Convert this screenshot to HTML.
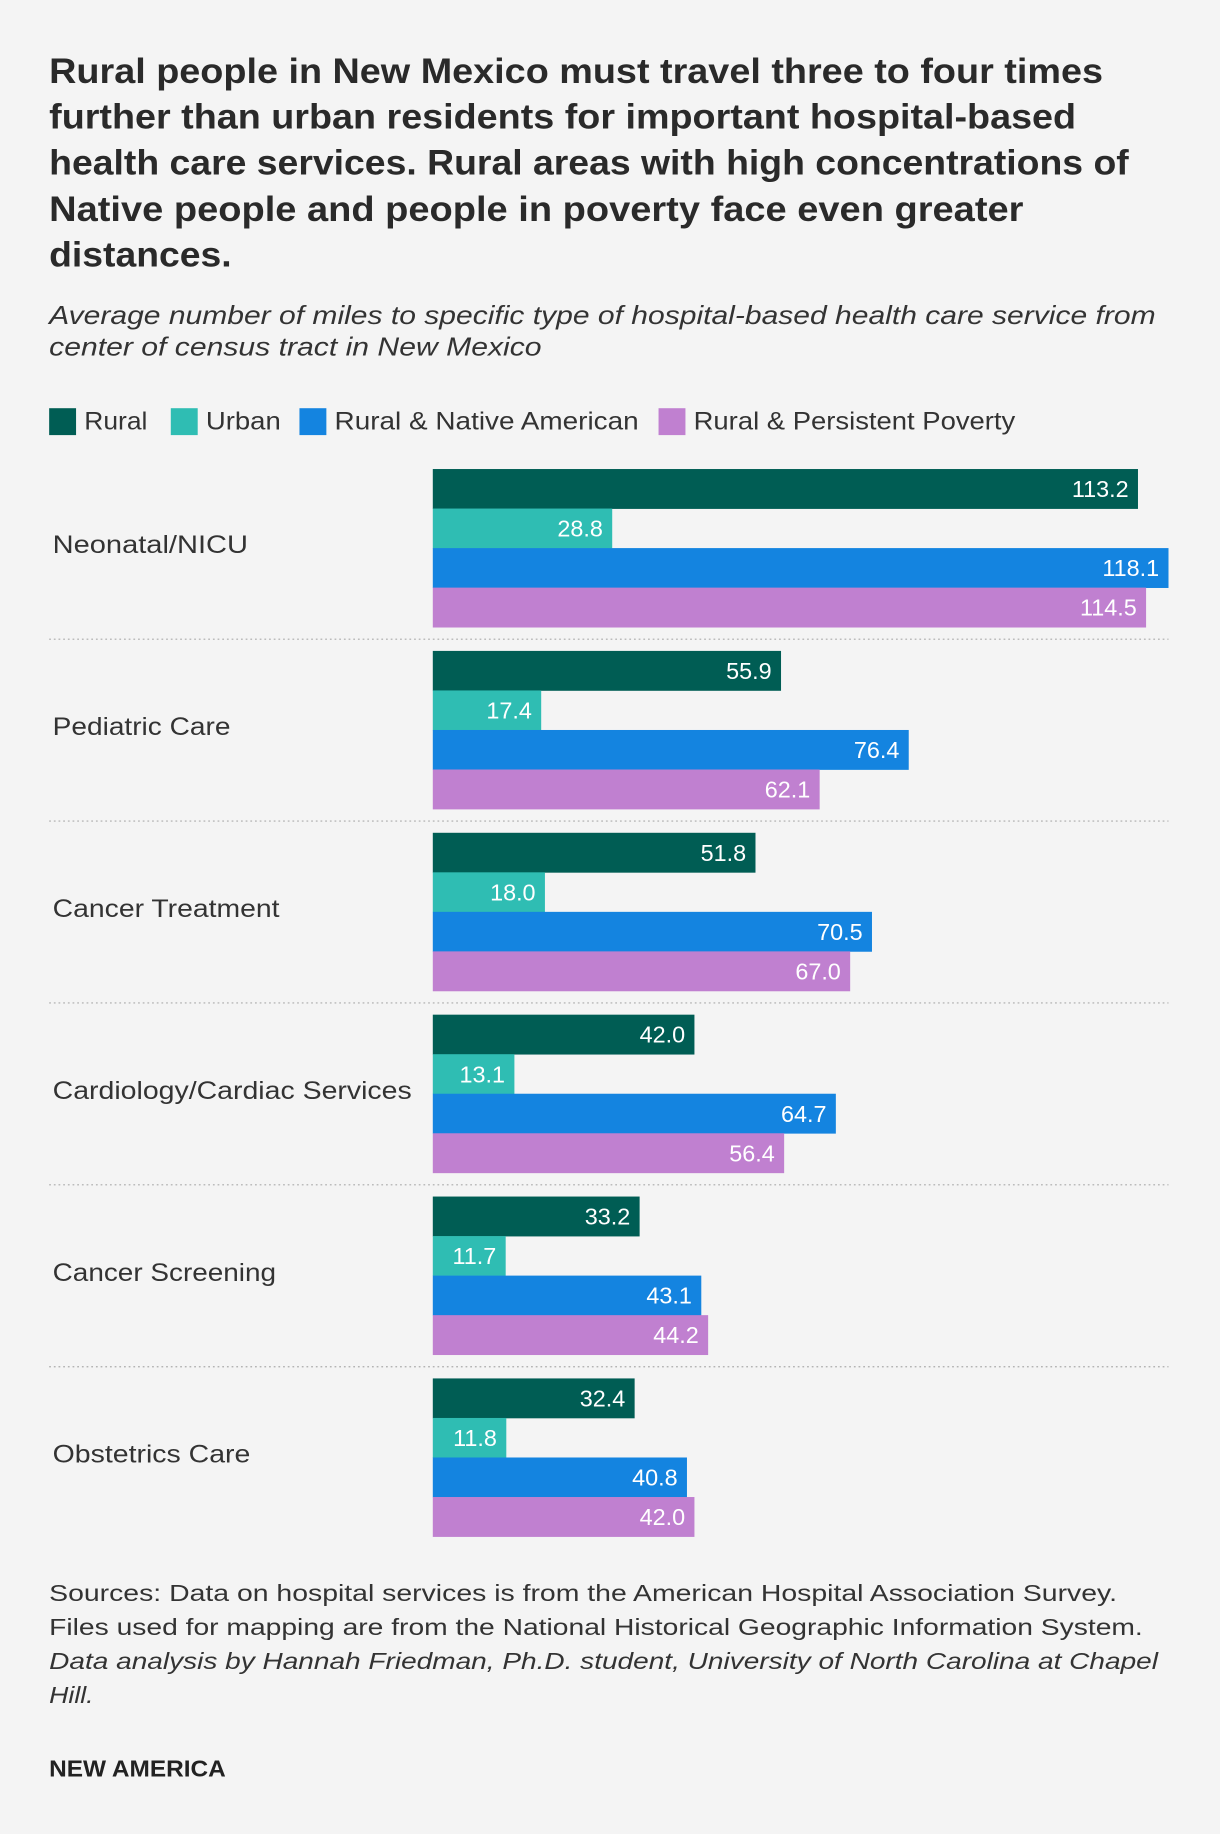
<!DOCTYPE html>
<html><head><meta charset="utf-8">
<style>
html,body{margin:0;padding:0;background:#f4f4f4;}
svg{display:block;font-family:"Liberation Sans",sans-serif;}
</style></head>
<body>
<svg id="chart" width="1220" height="1834" viewBox="0 0 1043 1568" xmlns="http://www.w3.org/2000/svg">
<rect width="1043" height="1568" fill="#f4f4f4"/>
<g font-size="30" font-weight="bold" fill="#2a2a2a" lengthAdjust="spacingAndGlyphs">
<text x="42" y="71" textLength="901" lengthAdjust="spacingAndGlyphs">Rural people in New Mexico must travel three to four times</text>
<text x="42" y="110" textLength="878" lengthAdjust="spacingAndGlyphs">further than urban residents for important hospital-based</text>
<text x="42" y="149" textLength="923" lengthAdjust="spacingAndGlyphs">health care services. Rural areas with high concentrations of</text>
<text x="42" y="189" textLength="833" lengthAdjust="spacingAndGlyphs">Native people and people in poverty face even greater</text>
<text x="42" y="228" textLength="156" lengthAdjust="spacingAndGlyphs">distances.</text>
</g>
<g font-size="22" font-style="italic" fill="#333">
<text x="42" y="277" textLength="946" lengthAdjust="spacingAndGlyphs">Average number of miles to specific type of hospital-based health care service from</text>
<text x="42" y="304" textLength="421" lengthAdjust="spacingAndGlyphs">center of census tract in New Mexico</text>
</g>
<g id="legend" font-size="21" fill="#333"></g>
<g id="bars"></g>
<g font-size="20" fill="#333">
<text x="42" y="1369" textLength="913" lengthAdjust="spacingAndGlyphs">Sources: Data on hospital services is from the American Hospital Association Survey.</text>
<text x="42" y="1398" textLength="935" lengthAdjust="spacingAndGlyphs">Files used for mapping are from the National Historical Geographic Information System.</text>
<text x="42" y="1427" font-style="italic" textLength="948" lengthAdjust="spacingAndGlyphs">Data analysis by Hannah Friedman, Ph.D. student, University of North Carolina at Chapel</text>
<text x="42" y="1456" font-style="italic" textLength="38" lengthAdjust="spacingAndGlyphs">Hill.</text>
</g>
<text x="42" y="1519" font-size="20" font-weight="bold" fill="#222" textLength="151" lengthAdjust="spacingAndGlyphs">NEW AMERICA</text>
</svg>
<script>
const categories=["Neonatal/NICU","Pediatric Care","Cancer Treatment","Cardiology/Cardiac Services","Cancer Screening","Obstetrics Care"];
const seriesNames=["Rural","Urban","Rural & Native American","Rural & Persistent Poverty"];
const rural=[113.2,55.9,51.8,42.0,33.2,32.4];
const urban=[28.8,17.4,18.0,13.1,11.7,11.8];
const native=[118.1,76.4,70.5,64.7,43.1,40.8];
const poverty=[114.5,62.1,67.0,56.4,44.2,42.0];
const colors=["#005d54","#2fbdb3","#1484e0","#c080d0"];
const series=[rural,urban,native,poverty];
const NS="http://www.w3.org/2000/svg";
const x0=370, xMax=118.1, xEnd=999;
const xs=v=>(v/xMax)*(xEnd-x0);
const groupTop=401, groupStep=155.5, barH=33.8;
const legendX=[42,146,256,563];
const legendW=[54,64,260,275];
const catW=[167,152,194,307,191,169];
function mk(tag,attrs,parent){const e=document.createElementNS(NS,tag);for(const k in attrs)e.setAttribute(k,attrs[k]);parent.appendChild(e);return e;}
const legend=document.getElementById('legend');
seriesNames.forEach((n,i)=>{
  const g=mk('g',{},legend);
  
  
  mk('rect',{x:legendX[i],y:349,width:23,height:23,fill:colors[i]},g);
  const t=mk('text',{x:legendX[i]+30,y:367,textLength:legendW[i],lengthAdjust:'spacingAndGlyphs'},g);t.textContent=n;
});
const bars=document.getElementById('bars');
categories.forEach((c,ci)=>{
  const top=groupTop+ci*groupStep;
  const lab=mk('text',{x:45,y:top+72,'font-size':21,fill:'#333',textLength:catW[ci],lengthAdjust:'spacingAndGlyphs'},bars);
  
  
  lab.textContent=c;
  series.forEach((s,si)=>{
    const y=top+si*barH;
    const w=xs(s[ci]);
    const r=mk('rect',{x:x0,y:y,width:w,height:barH+0.3,fill:colors[si]},bars);
    
    
    const t=mk('text',{x:x0+w-8,y:y+24,'font-size':20,fill:'#fff','text-anchor':'end'},bars);
    
    
    t.textContent=s[ci].toFixed(1);
  });
  if(ci<categories.length-1){
    const l=mk('line',{x1:42,x2:999,y1:top+145.5,y2:top+145.5,stroke:'#aaa','stroke-width':1,'stroke-dasharray':'1.5 2.5'},bars);
    
    
  }
});
</script>
</body></html>
